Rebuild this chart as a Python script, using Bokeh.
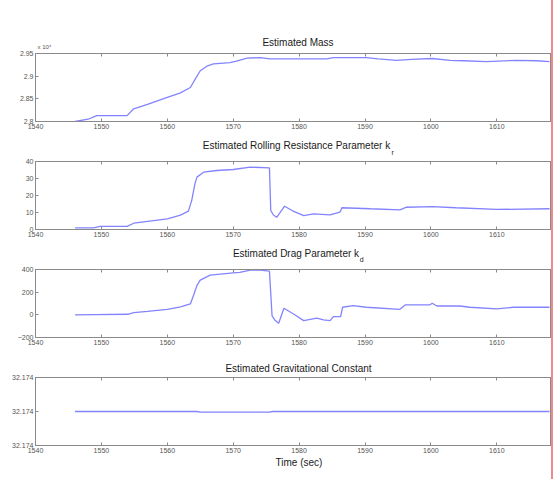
from bokeh.plotting import figure
from bokeh.models import Range1d, LinearAxis, FixedTicker
from bokeh.layouts import column
from bokeh.embed import file_html
from bokeh.resources import INLINE

# ---------------- data ----------------
x_ticks = [1540, 1550, 1560, 1570, 1580, 1590, 1600, 1610]

mass_t = [1546, 1548, 1549.3, 1553.9, 1554.9, 1557, 1560, 1562, 1563.5, 1564.3,
          1565, 1566, 1567, 1569.5, 1570.5, 1572.1, 1574.1, 1575.6, 1578, 1584.2,
          1585.2, 1590.2, 1592, 1594.8, 1597, 1600.2, 1602.9, 1605, 1608.4, 1613,
          1616, 1618.0]
mass_v = [28000, 28050, 28130, 28130, 28280, 28380, 28530, 28630, 28750, 28950,
          29120, 29220, 29270, 29300, 29330, 29400, 29410, 29380, 29380, 29380,
          29410, 29410, 29380, 29350, 29370, 29390, 29350, 29340, 29320, 29350,
          29340, 29320]
mass_ticks = [28000, 28500, 29000, 29500]
mass_tick_labels = ["2.8", "2.85", "2.9", "2.95"]
mass_exponent = "x 10\u2074"

kr_t = [1546, 1548.8, 1549.8, 1553.9, 1554.9, 1557, 1560, 1562, 1563.2, 1563.7,
        1564.2, 1564.5, 1565.5, 1567.5, 1570, 1572.6, 1575.5, 1575.7, 1576.1, 1576.6,
        1577.8, 1579, 1580.7, 1582.2, 1584.7, 1586.2, 1586.5, 1590.8, 1595.3, 1596.3,
        1600.2, 1603.8, 1610, 1618.0]
kr_v = [1, 1, 1.8, 1.8, 3.7, 4.8, 6.3, 8.5, 10.8, 17,
        27, 30.8, 33.7, 34.7, 35.3, 36.7, 36.3, 11.2, 8.5, 7.2,
        13.7, 11, 8.2, 9.2, 8.6, 10.2, 12.8, 12.2, 11.6, 13.1,
        13.5, 12.8, 11.8, 12.2]
kr_ticks = [0, 10, 20, 30, 40]

kd_t = [1546, 1549, 1554, 1554.9, 1557, 1560, 1562, 1563.5, 1564, 1564.5,
        1565, 1566.5, 1570, 1571, 1572.6, 1574.1, 1575.5, 1575.9, 1576.3, 1576.9,
        1577.7, 1579.4, 1580.7, 1582.7, 1583.7, 1584.7, 1585.2, 1586.3, 1586.6, 1588.2,
        1590.2, 1595.3, 1596.1, 1599.8, 1600.2, 1600.9, 1604.4, 1605.9, 1610, 1612.5,
        1618.0]
kd_v = [0, 2, 5, 19, 30, 49, 70, 96, 175, 260,
        306, 350, 370, 375, 394, 394, 385, -10, -45, -74,
        58, -1, -51, -30, -45, -51, -16, -16, 67, 81,
        67, 49, 87, 87, 102, 78, 78, 67, 52, 67,
        67]
kd_ticks = [-200, 0, 200, 400]

g_t = [1546, 1564.5, 1565, 1575.5, 1576, 1618.0]
g_v = [32.174, 32.174, 32.1739998, 32.1739998, 32.174, 32.174]
g_center = 32.174
g_ticks = [-10, 0, 10]          # micro-units around g_center
g_tick_labels = ["32.174", "32.174", "32.174"]

titles = ["Estimated Mass",
          "Estimated Rolling Resistance Parameter k",
          "Estimated Drag Parameter k",
          "Estimated Gravitational Constant"]
subscripts = [None, "r", "d", None]
x_label = "Time (sec)"

# ---------------- styling ----------------
FONT = "Liberation Sans"
AXIS_COL = "#8a8a8a"
TICK_TXT = "#555555"
TITLE_COL = "#1a1a1a"
LINE_COL = "#7c7cff"
FRAME_L, FRAME_R = 35, 553
X0, X1 = 1540, 1618.3
x_range = Range1d(X0, X1)


def px2x(px):
    return X0 + (px - FRAME_L) * (X1 - X0) / (FRAME_R - FRAME_L)


def style_axis(ax, ticks, labels=None, show_labels=True):
    ax.ticker = FixedTicker(ticks=ticks)
    ax.axis_line_color = AXIS_COL
    ax.major_tick_line_color = AXIS_COL
    ax.major_tick_in = 3
    ax.major_tick_out = 0
    ax.minor_tick_line_color = None
    ax.major_label_text_font = FONT
    ax.major_label_text_color = TICK_TXT
    ax.major_label_standoff = 2
    ax.major_label_text_font_size = "7px"
    if not show_labels:
        ax.major_label_text_font_size = "0px"
        ax.major_label_text_color = None
        ax.major_label_standoff = 0
    if labels is not None:
        ax.major_label_overrides = {t: l for t, l in zip(ticks, labels)}


def text_axis(p, place, px, text, size, standoff, color=TITLE_COL):
    """An axis without line or ticks whose single tick label carries a text."""
    x = px2x(px)
    ax = LinearAxis(ticker=FixedTicker(ticks=[x]),
                    major_label_overrides={x: text})
    ax.axis_line_color = None
    ax.major_tick_line_color = None
    ax.minor_tick_line_color = None
    ax.major_tick_in = 0
    ax.major_tick_out = 0
    ax.major_label_text_font = FONT
    ax.major_label_text_font_size = size
    ax.major_label_text_color = color
    ax.major_label_standoff = standoff
    p.add_layout(ax, place)
    return ax


def make_panel(h, top, bottom, yr, yticks, ylabels, t, v):
    p = figure(width=553, height=h, x_range=x_range, y_range=yr,
               output_backend="svg", toolbar_location=None,
               min_border_left=FRAME_L, min_border_right=0,
               min_border_top=top, min_border_bottom=bottom)
    p.grid.visible = False
    p.outline_line_color = AXIS_COL
    p.background_fill_color = "white"
    p.border_fill_color = "white"
    style_axis(p.xaxis[0], x_ticks)
    style_axis(p.yaxis[0], yticks, ylabels)
    top_ax = LinearAxis()
    style_axis(top_ax, x_ticks, show_labels=False)
    p.add_layout(top_ax, "above")
    p.line(t, v, line_color=LINE_COL, line_width=1.3, line_alpha=0.95)
    return p


p1 = make_panel(135, 53, 14, Range1d(28000, 29500), mass_ticks, mass_tick_labels, mass_t, mass_v)
text_axis(p1, "above", 44, mass_exponent, "6px", 4, TICK_TXT)
text_axis(p1, "above", 298.5, titles[0], "10px", -7)

p2 = make_panel(108, 26, 14, Range1d(0, 40), kr_ticks, None, kr_t, kr_v)
text_axis(p2, "above", 393.5, subscripts[1], "7px", 6)
text_axis(p2, "above", 297, titles[1], "10px", -5)

p3 = make_panel(108, 26, 14, Range1d(-200, 400), kd_ticks, None, kd_t, kd_v)
text_axis(p3, "above", 362.5, subscripts[2], "7px", 7)
text_axis(p3, "above", 296.5, titles[2], "10px", -6)

g_plot = [(val - g_center) * 1e6 for val in g_v]
p4 = make_panel(128, 26, 34, Range1d(-10, 10), g_ticks, g_tick_labels, g_t, g_plot)
text_axis(p4, "above", 299, titles[3], "10px", 4)
text_axis(p4, "below", 299.5, x_label, "10px", 1)

layout = column(p1, p2, p3, p4, spacing=0,
                styles={"border-right": "2px solid #f08a8a", "width": "553px"})

open("out.html", "w").write(file_html(layout, INLINE))
